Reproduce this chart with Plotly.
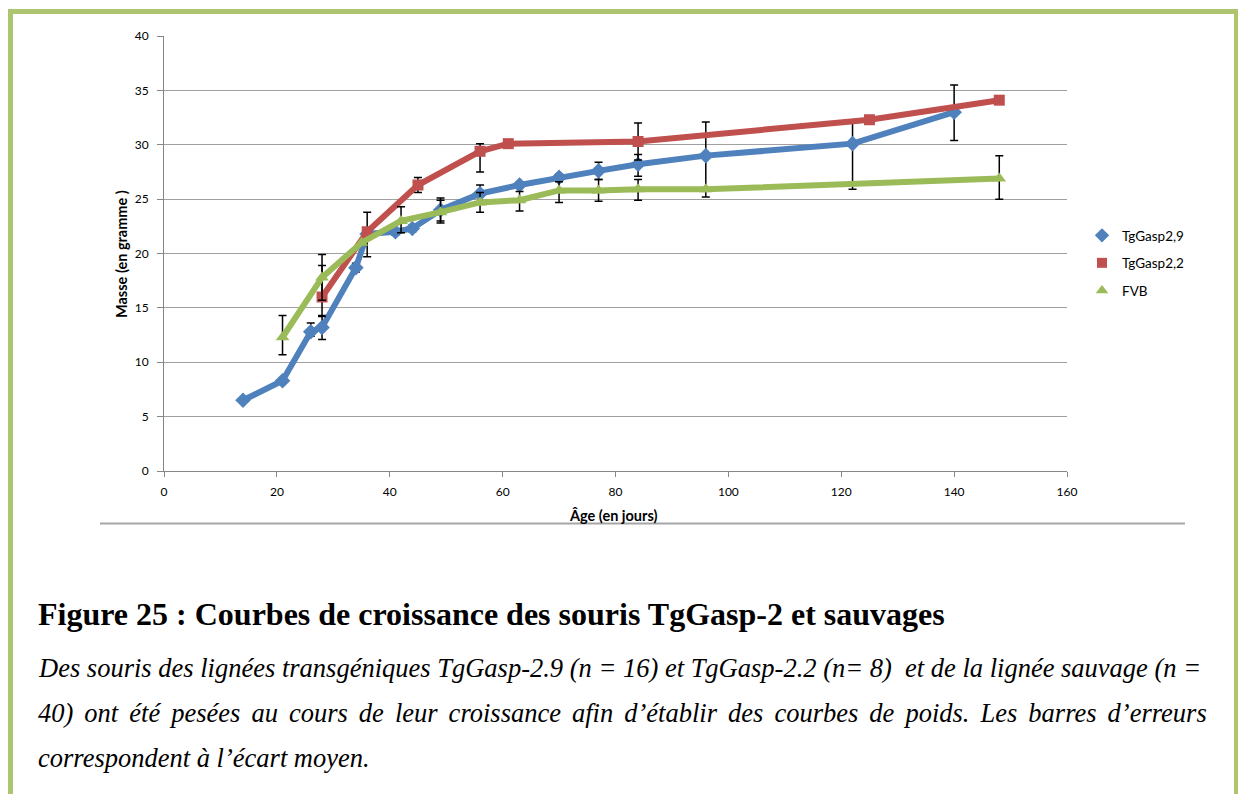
import plotly.graph_objects as go

# ---- data ----
blue_x = [14, 21, 26, 28, 34, 36, 41, 44, 49, 56, 63, 70, 77, 84, 96, 122, 140]
blue_y = [6.5, 8.3, 12.8, 13.2, 18.7, 21.8, 22.0, 22.3, 24.0, 25.5, 26.3, 27.0, 27.6, 28.2, 29.0, 30.1, 33.0]
blue_plus = [0, 0, 0.8, 1.1, 0.4, 0, 0.3, 0.3, 1.1, 0.8, 0, 0.3, 0.8, 0.9, 3.1, 1.9, 2.5]
blue_minus = [0, 0, 0.4, 1.1, 0.4, 0, 0.3, 0.3, 1.0, 0.8, 0, 0.3, 0.8, 1.1, 3.8, 4.2, 2.6]

red_x = [28, 36, 45, 56, 61, 84, 125, 148]
red_y = [16.0, 22.0, 26.3, 29.4, 30.1, 30.3, 32.3, 34.1]
red_plus = [2.9, 1.8, 0.7, 0.7, 0, 1.7, 0, 0]
red_minus = [1.8, 2.3, 0.7, 1.9, 0, 1.7, 0, 0]

green_x = [21, 28, 35, 42, 49, 56, 63, 70, 77, 84, 96, 148]
green_y = [12.3, 17.8, 21.0, 23.0, 23.8, 24.7, 24.9, 25.8, 25.8, 25.9, 25.9, 26.9]
green_plus = [2.0, 2.1, 0, 1.3, 1.1, 0.9, 0.8, 0.8, 1.0, 0.9, 0, 2.1]
green_minus = [1.6, 2.1, 0, 1.1, 1.0, 0.9, 1.0, 1.1, 1.0, 1.0, 0, 1.9]

series_names = ["TgGasp2,9", "TgGasp2,2", "FVB"]
x_ticks = [0, 20, 40, 60, 80, 100, 120, 140, 160]
y_ticks = [0, 5, 10, 15, 20, 25, 30, 35, 40]

x_title = "Âge (en jours)"
y_title = "Masse (en gramme )"
caption_title = "Figure 25 : Courbes de croissance des souris TgGasp-2 et sauvages"
caption_lines = [
    "Des souris des lignées transgéniques TgGasp-2.9 (n = 16) et TgGasp-2.2 (n= 8)\u00a0 et de la lignée sauvage (n =",
    "40) ont été pesées au cours de leur croissance afin d’établir des courbes de poids. Les barres d’erreurs",
    "correspondent à l’écart moyen.",
]

# ---- layout geometry (pixels) ----
W, H = 1238, 794
L, R, T, B = 164, 1067, 36, 471


def px(p):
    return (p - L) / (R - L)


def py(p):
    return (B - p) / (B - T)


def justify(line):
    # widen every word gap a little (six-per-em space) to mimic justified text
    return " \u2006".join(line.split(" "))


BLUE, RED, GREEN = "#4f81bd", "#c0504d", "#9bbb59"
FONT = "Lato, Noto Sans, sans-serif"
SERIF = "Liberation Serif, Times New Roman, serif"

fig = go.Figure()

specs = [
    (blue_x, blue_y, blue_plus, blue_minus, BLUE, "diamond", 12),
    (red_x, red_y, red_plus, red_minus, RED, "square", 11),
    (green_x, green_y, green_plus, green_minus, GREEN, "triangle-up", 12),
]
for (xs, ys, ep, em, col, sym, sz), name in zip(specs, series_names):
    fig.add_trace(go.Scatter(
        x=xs, y=ys, mode="lines+markers", name=name, showlegend=False,
        line=dict(color=col, width=6),
        marker=dict(color=col, symbol=sym, size=sz),
        error_y=dict(type="data", symmetric=False, array=ep, arrayminus=em,
                     color="black", thickness=1.5, width=4),
    ))

for (xs, ys, ep, em, col, sym, sz), name in zip(specs, series_names):
    fig.add_trace(go.Scatter(
        x=[None], y=[None], mode="markers", name=name, legendgroup=name,
        marker=dict(color=col, symbol=sym, size=sz - 1),
    ))

annotations = [
    dict(x=px(613), y=py(515), text="<b>" + x_title + "</b>", showarrow=False,
         xanchor="center", yanchor="middle",
         xref="paper", yref="paper", font=dict(family=FONT, size=14.5, color="black")),
    dict(x=px(122), y=py(254), text="<b>" + y_title + "</b>", showarrow=False, textangle=-90,
         xanchor="center", yanchor="middle",
         xref="paper", yref="paper", font=dict(family=FONT, size=14.5, color="black")),
    dict(x=px(36), y=py(614), text="<b>" + caption_title + "</b>", showarrow=False,
         xref="paper", yref="paper", xanchor="left", yanchor="middle",
         font=dict(family=SERIF, size=32, color="black")),
]
for i, line in enumerate(caption_lines):
    txt = justify(line) if i == 1 else line
    annotations.append(dict(
        x=px(36), y=py(668 + 45 * i), text="<i>" + txt + "</i>", showarrow=False,
        xref="paper", yref="paper", xanchor="left", yanchor="middle",
        font=dict(family=SERIF, size=26.5, color="black")))

shapes = [
    dict(type="rect", xref="paper", yref="paper", x0=px(10.5), x1=px(1236.5), y0=py(11.5), y1=py(830),
         line=dict(color="#adc56e", width=5), layer="below"),
    dict(type="line", xref="paper", yref="paper", x0=px(100), x1=px(1185), y0=py(523.5), y1=py(523.5),
         line=dict(color="#a6a6a6", width=2)),
]

fig.update_layout(
    width=W, height=H,
    margin=dict(l=L, r=W - R, t=T, b=H - B),
    paper_bgcolor="white", plot_bgcolor="white",
    font=dict(family=FONT, size=12, color="black"),
    xaxis=dict(range=[0, 160], tickvals=x_ticks, showgrid=False, showline=True,
               linecolor="#868686", linewidth=1, ticks="outside", ticklen=5,
               tickcolor="#868686", zeroline=False, ticklabelstandoff=5,
               tickfont=dict(size=12, color="black")),
    yaxis=dict(range=[0, 40], tickvals=y_ticks, showgrid=True, gridcolor="#a0a0a0",
               gridwidth=1, showline=True, linecolor="#868686", linewidth=1,
               ticks="outside", ticklen=6, tickcolor="#868686", zeroline=False,
               ticklabelstandoff=6, tickfont=dict(size=12, color="black")),
    legend=dict(x=px(1082), y=py(220), xanchor="left", yanchor="top",
                font=dict(family=FONT, size=13.5, color="black"), bgcolor="rgba(0,0,0,0)",
                tracegroupgap=7, itemwidth=30),
    annotations=annotations,
    shapes=shapes,
)

fig.write_html("out.html", config={"displayModeBar": False},
               post_script="document.body.style.margin='0';document.body.style.overflow='hidden';")
